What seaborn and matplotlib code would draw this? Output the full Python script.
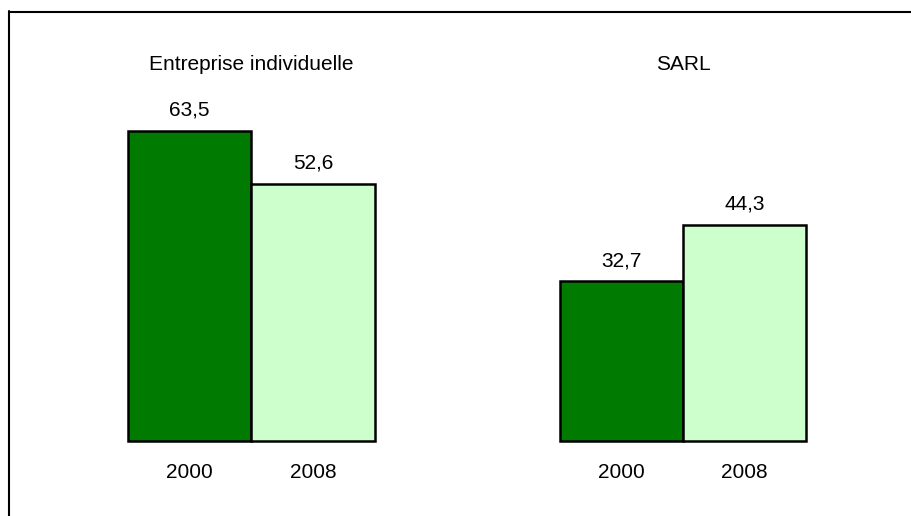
import pandas as pd
import numpy as np
import matplotlib
matplotlib.use("Agg")
import matplotlib.pyplot as plt
import seaborn as sns

# data
groups = ['Entreprise individuelle', 'SARL']
years = ['2000', '2008']
values_ei = [63.5, 52.6]
values_sarl = [32.7, 44.3]
colors = ['#007A00', '#CCFFCC']

sns.set_style('white')
plt.rcParams['font.family'] = ['Liberation Sans', 'DejaVu Sans']
plt.rcParams['text.color'] = 'black'
plt.rcParams['xtick.color'] = 'black'

fig = plt.figure(figsize=(9.12, 5.16), dpi=100)

W, H = 912, 516
ax_pos = [(128, 247), (560, 246)]
base, top = 441, 11

for (left, width), title, vals in zip(ax_pos, groups, [values_ei, values_sarl]):
    ax = fig.add_axes([left / W, (H - base) / H, width / W, (base - top) / H])
    df = pd.DataFrame({'year': years, 'value': vals})
    sns.barplot(data=df, x='year', y='value', hue='year', palette=colors, saturation=1,
                width=1, edgecolor='black', linewidth=1.8, legend=False, ax=ax)
    for p in ax.patches:
        p.set_clip_on(False)
    ax.set_xlim(-0.5, 1.5)
    ax.set_ylim(0, 88)
    for c in ax.containers:
        ax.bar_label(c, labels=[f'{v:.1f}'.replace('.', ',') for v in c.datavalues],
                     padding=8, fontsize=15, color='black')
    ax.set_title(title, y=0.863, pad=0, fontsize=15, color='black')
    ax.set_xlabel('')
    ax.set_ylabel('')
    ax.set_yticks([])
    ax.tick_params(axis='x', length=0, pad=16, labelsize=15, labelcolor='black')
    sns.despine(ax=ax, left=True, top=True, right=True, bottom=True)

# outer frame (left and top edges only are visible in the original)
fig.add_artist(plt.Line2D([9.5 / W, 9.5 / W], [0, 1 - 11 / H], transform=fig.transFigure,
                          color='black', linewidth=1.5))
fig.add_artist(plt.Line2D([9.5 / W, 1], [1 - 11.5 / H, 1 - 11.5 / H], transform=fig.transFigure,
                          color='black', linewidth=1.5))

fig.savefig('out.png', dpi=100)
